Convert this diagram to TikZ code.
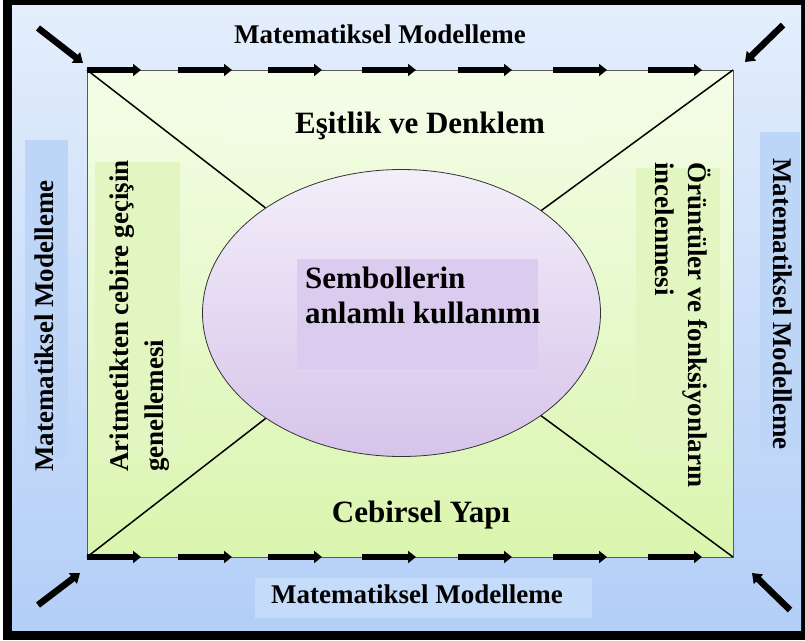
\documentclass[tikz,border=0pt]{standalone}
\usepackage{fontspec}
\setmainfont{Liberation Serif}
\usetikzlibrary{arrows.meta,shapes.geometric}
\definecolor{bgtop}{HTML}{E4EEFC}
\definecolor{bgbot}{HTML}{B3CEF7}
\definecolor{grtop}{HTML}{F4FDE8}
\definecolor{grbot}{HTML}{DAF5AE}
\definecolor{eltop}{HTML}{F3EEFA}
\definecolor{elbot}{HTML}{D6C4EA}
\definecolor{sidebox}{HTML}{BDD5F7}
\definecolor{botbox}{HTML}{C4DBFA}
\definecolor{grbox}{HTML}{E2F6C2}
\definecolor{symbox}{HTML}{DBCBEE}
\tikzset{
  lbl/.style={font=\bfseries\fontsize{27}{32}\selectfont, inner sep=0pt},
  big/.style={font=\bfseries\fontsize{31}{36}\selectfont, inner sep=0pt},
  dasharr/.style={line width=6.5pt, -{Triangle[length=8pt,width=12pt]}},
  cornerarr/.style={line width=6.5pt, -{Triangle[length=9pt,width=13pt]}},
  diag/.style={line width=1.5pt},
}
\begin{document}
\begin{tikzpicture}[x=1pt,y=-1pt]
\useasboundingbox (0,0) rectangle (805,640);
% frame and background
\fill[black] (3,0) rectangle (805,640);
\shade[top color=bgtop, bottom color=bgbot] (12,5) rectangle (801,630);
% outer label boxes
\fill[sidebox] (25,140) rectangle (68,458);
\fill[sidebox] (760,132) rectangle (800,455);
\fill[botbox] (255,578) rectangle (592,618);
% green rectangle
\shade[top color=grtop, bottom color=grbot, draw=black!65, line width=0.8pt] (87,70) rectangle (733,557);
\coordinate (tl) at (87,70);
\coordinate (tr) at (733,70);
\coordinate (bl) at (87,557);
\coordinate (br) at (733,557);
% inner label boxes
\fill[white, opacity=0.08] (220,97) rectangle (588,147);
\fill[grbox] (95,162) rectangle (180,460);
\fill[grbox] (636,168) rectangle (720,457);
% ellipse and diagonals
\node[ellipse, minimum width=398pt, minimum height=287pt, inner sep=0pt,
      top color=eltop, bottom color=elbot, draw=black!80, line width=0.8pt] (ell) at (401.5,313) {};
\draw[diag] (tl) -- (ell);
\draw[diag] (tr) -- (ell);
\draw[diag] (bl) -- (ell);
\draw[diag] (br) -- (ell);
\fill[symbox] (297,259) rectangle (538,369);
% texts
\node[lbl, anchor=base] (ttop) at (380,43) {Matematiksel Modelleme};
\node[lbl, anchor=base] (tbot) at (417,603) {Matematiksel Modelleme};
\node[lbl, anchor=base, rotate=90] (tleft) at (53,326) {Matematiksel Modelleme};
\node[lbl, anchor=base, rotate=-90] (tright) at (773,304) {Matematiksel Modelleme};
\node[big, anchor=base] (esit) at (420,133) {Eşitlik ve Denklem};
\node[big, anchor=base] (cebir) at (421,522) {Cebirsel Yapı};
\node[big, anchor=base west] (sem1) at (305,288) {Sembollerin};
\node[big, anchor=base west] (sem2) at (305,323) {anlamlı kullanımı};
\node[lbl, anchor=base west, rotate=90] (ar1) at (128,472) {Aritmetikten cebire geçişin};
\node[lbl, anchor=base west, rotate=90] (ar2) at (163,472) {genellemesi};
\node[lbl, anchor=base west, rotate=-90] (or1) at (688,162) {Örüntüler ve fonksiyonların};
\node[lbl, anchor=base west, rotate=-90] (or2) at (655,162) {incelenmesi};
% dashed arrows on top and bottom edges
\foreach \s [count=\i] in {87,178,268,362,458,553,648} {
  \coordinate (ta\i) at (\s,70);
  \coordinate (tb\i) at (\s+54,70);
  \draw[dasharr] (ta\i) -- (tb\i);
  \coordinate (ba\i) at (\s,557);
  \coordinate (bb\i) at (\s+54,557);
  \draw[dasharr] (ba\i) -- (bb\i);
}
% corner arrows
\coordinate (c1s) at (38,28);  \coordinate (c1e) at (83,63);
\coordinate (c2s) at (783,25); \coordinate (c2e) at (745,62);
\coordinate (c3s) at (38,605); \coordinate (c3e) at (80,573);
\coordinate (c4s) at (790,610);\coordinate (c4e) at (752,573);
\draw[cornerarr] (c1s) -- (c1e);
\draw[cornerarr] (c2s) -- (c2e);
\draw[cornerarr] (c3s) -- (c3e);
\draw[cornerarr] (c4s) -- (c4e);
\end{tikzpicture}
\end{document}
